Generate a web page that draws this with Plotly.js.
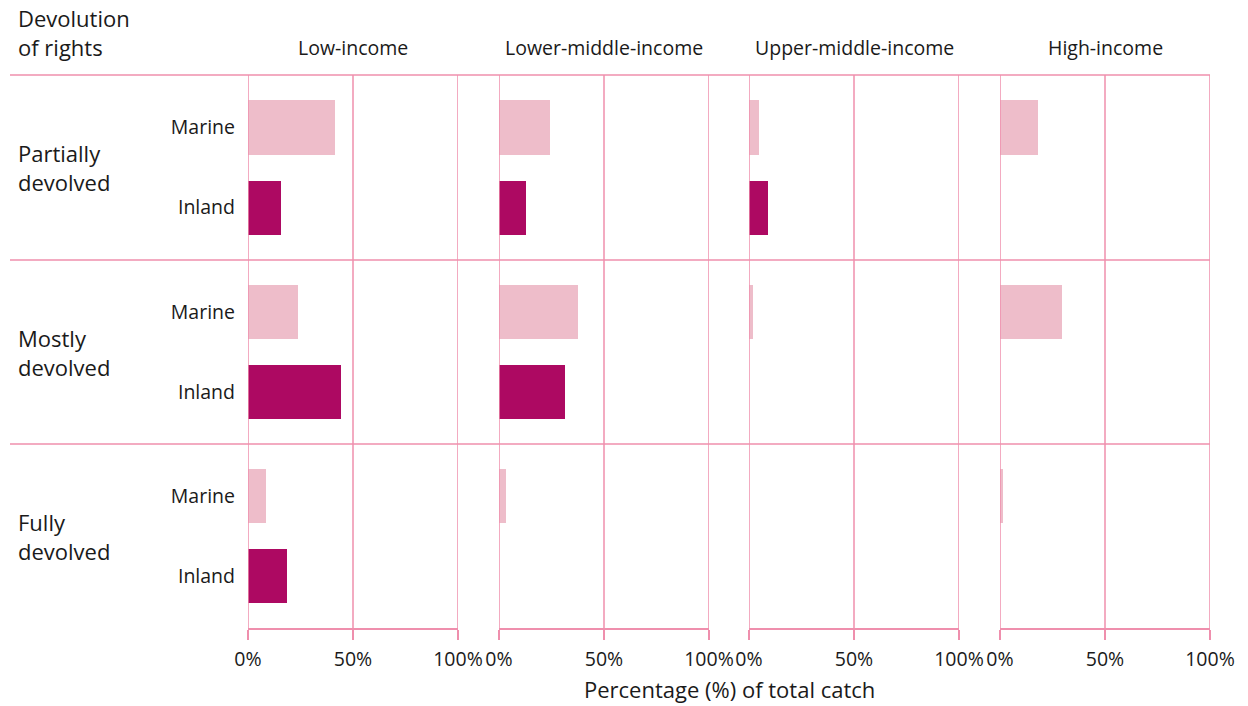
<!DOCTYPE html>
<html>
<head>
<meta charset="utf-8">
<script src="https://cdn.plot.ly/plotly-3.0.1.min.js"></script>
<style>html,body{margin:0;padding:0;background:#fff;}#chart{width:1248px;height:706px;}</style>
</head>
<body>
<div id="chart"></div>
<script>
// ---- Data ----
const incomeGroups = ['Low-income', 'Lower-middle-income', 'Upper-middle-income', 'High-income'];
const devolutionLevels = ['Partially<br>devolved', 'Mostly<br>devolved', 'Fully<br>devolved'];
const fisheryTypes = ['Inland', 'Marine'];
const xTickVals = [0, 50, 100];
const xTickText = ['0%', '50%', '100%'];

// values per devolution level, across income groups (% of total catch)
const marinePartially = [41.4, 24.3, 4.8, 18.1];
const inlandPartially = [15.7, 12.9, 9.0, 0];
const marineMostly    = [23.8, 37.6, 1.9, 29.5];
const inlandMostly    = [44.3, 31.4, 0, 0];
const marineFully     = [8.6, 3.3, 0, 1.4];
const inlandFully     = [18.6, 0, 0, 0];

const marineByRow = [marinePartially, marineMostly, marineFully];
const inlandByRow = [inlandPartially, inlandMostly, inlandFully];

// ---- Styling ----
const W = 1248, H = 706;
const FONT = 'Open Sans, Noto Sans, sans-serif';
const TXT = '#1a1a1a';
const LINE = '#ef8fad';
const MARINE_COLOR = '#eebdca';
const INLAND_COLOR = '#ad0962';
const SMALL = 19.5, BIG = 22;

const px = v => v / W;
const py = v => 1 - v / H;

const colPx = [[248, 458], [499, 709], [749, 959], [1000, 1210]];
const rowPx = [[75, 260], [260, 444], [444, 628]];

const axName = (base, i) => base + (i === 0 ? '' : (i + 1));
const axKey = (base, i) => base + 'axis' + (i === 0 ? '' : (i + 1));

const traces = [];
for (let r = 0; r < 3; r++) {
  for (let c = 0; c < 4; c++) {
    traces.push({
      type: 'bar', orientation: 'h',
      y: [fisheryTypes[1]], x: [marineByRow[r][c]],
      xaxis: axName('x', c), yaxis: axName('y', r),
      marker: {color: MARINE_COLOR, line: {width: 0}},
      width: 0.675, hoverinfo: 'x+y', showlegend: false
    });
    traces.push({
      type: 'bar', orientation: 'h',
      y: [fisheryTypes[0]], x: [inlandByRow[r][c]],
      xaxis: axName('x', c), yaxis: axName('y', r),
      marker: {color: INLAND_COLOR, line: {width: 0}},
      width: 0.675, hoverinfo: 'x+y', showlegend: false
    });
  }
}

const layout = {
  width: W, height: H,
  margin: {l: 0, r: 0, t: 0, b: 0},
  paper_bgcolor: '#fff', plot_bgcolor: 'rgba(0,0,0,0)',
  showlegend: false,
  bargap: 0,
  font: {family: FONT, color: TXT, size: SMALL},
  shapes: [], annotations: []
};

for (let c = 0; c < 4; c++) {
  layout[axKey('x', c)] = {
    domain: [px(colPx[c][0]), px(colPx[c][1])],
    anchor: 'y3',
    range: [0, 100], fixedrange: true,
    tickvals: xTickVals, ticktext: xTickText,
    ticks: 'outside', ticklen: 10, tickwidth: 1.5, tickcolor: LINE,
    ticklabelstandoff: 3,
    showline: true, linecolor: LINE, linewidth: 1.5,
    showgrid: false, zeroline: false,
    tickfont: {family: FONT, size: SMALL, color: TXT}
  };
  xTickVals.forEach(v => {
    layout.shapes.push({
      type: 'line', xref: axName('x', c), yref: 'paper',
      x0: v, x1: v, y0: py(rowPx[2][1]), y1: py(rowPx[0][0]),
      line: {color: LINE, width: 1.5}, layer: 'above'
    });
  });
  layout.annotations.push({
    xref: axName('x', c) + ' domain', yref: 'paper',
    x: 0.5, y: py(48), xanchor: 'center', yanchor: 'middle',
    text: incomeGroups[c], showarrow: false,
    font: {family: FONT, size: SMALL, color: TXT}
  });
}

for (let r = 0; r < 3; r++) {
  layout[axKey('y', r)] = {
    domain: [py(rowPx[r][1]), py(rowPx[r][0])],
    anchor: 'x',
    type: 'category', categoryarray: fisheryTypes, categoryorder: 'array',
    range: [-0.656, 1.656], fixedrange: true,
    showgrid: false, zeroline: false, showline: false,
    ticks: '', ticklabelstandoff: 12,
    tickfont: {family: FONT, size: SMALL, color: TXT}
  };
  layout.annotations.push({
    xref: 'paper', yref: 'paper',
    x: px(16), y: (py(rowPx[r][0]) + py(rowPx[r][1])) / 2,
    xanchor: 'left', yanchor: 'middle', align: 'left',
    text: devolutionLevels[r], showarrow: false,
    font: {family: FONT, size: BIG, color: TXT}
  });
}

// horizontal separators
[75, 260, 444].forEach(y => {
  layout.shapes.push({
    type: 'line', xref: 'paper', yref: 'paper',
    x0: px(10), x1: px(1210), y0: py(y), y1: py(y),
    line: {color: LINE, width: 1.5}, layer: 'above'
  });
});

layout.annotations.push({
  xref: 'paper', yref: 'paper', x: px(16), y: py(33),
  xanchor: 'left', yanchor: 'middle', align: 'left',
  text: 'Devolution<br>of rights', showarrow: false,
  font: {family: FONT, size: BIG, color: TXT}
});
layout.annotations.push({
  xref: 'paper', yref: 'paper', x: px(729), y: py(689),
  xanchor: 'center', yanchor: 'middle',
  text: 'Percentage (%) of total catch', showarrow: false,
  font: {family: FONT, size: BIG, color: TXT}
});

Plotly.newPlot('chart', traces, layout, {staticPlot: true, displayModeBar: false});
</script>
</body>
</html>
